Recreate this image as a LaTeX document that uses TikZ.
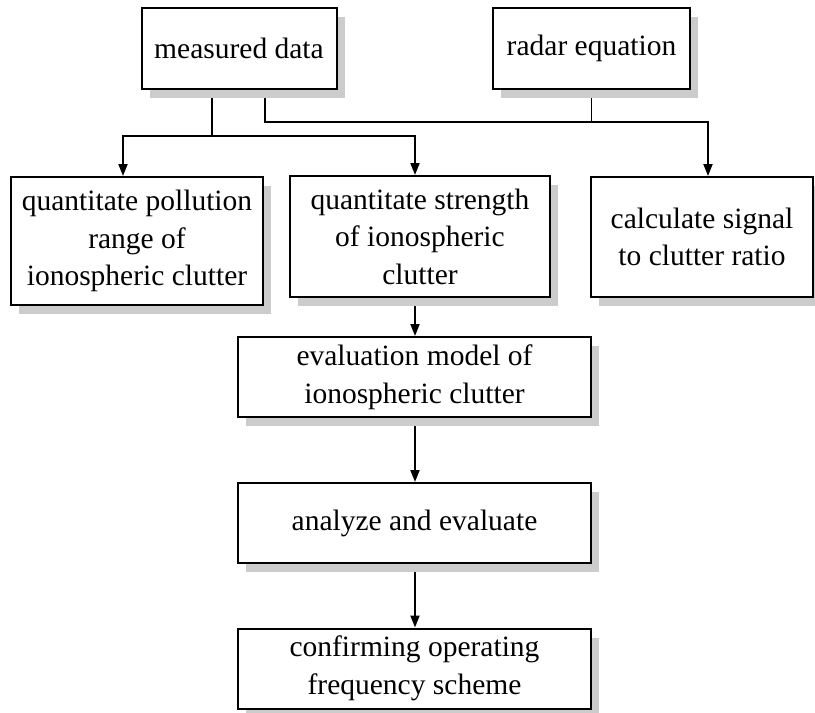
\documentclass[tikz,border=0pt]{standalone}
\usepackage{fontspec}
\setmainfont{Liberation Serif}
\usetikzlibrary{arrows.meta,shadows,backgrounds}
\tikzset{
	box/.style={draw, line width=2pt, fill=white, align=center, inner sep=0pt,
		font=\fontsize{29.5pt}{37.5pt}\selectfont,
		drop shadow={shadow xshift=8pt, shadow yshift=-9pt, fill=black!20, opacity=1}},
	lin/.style={line width=1.8pt},
	arr/.style={line width=1.8pt, -{Triangle[length=12pt,width=9pt]}}
}
\begin{document}
\begin{tikzpicture}[x=1pt,y=-1pt]
	\useasboundingbox (0,0) rectangle (815,713);
	% boxes
	\node[box, minimum width=195pt, minimum height=81pt] (meas) at (239,48.5) {measured data};
	\node[box, minimum width=197pt, minimum height=81pt] (radar) at (591.5,48.5) {radar equation};
	\node[box, minimum width=252pt, minimum height=128pt] (poll) at (137,241) {quantitate pollution\\range of\\ionospheric clutter};
	\node[box, minimum width=260pt, minimum height=121pt] (strg) at (420,236.5) {quantitate strength\\of ionospheric\\clutter};
	\node[box, minimum width=222pt, minimum height=120pt] (calc) at (702,237) {calculate signal\\to clutter ratio};
	\node[box, minimum width=353pt, minimum height=80pt] (eval) at (414.5,377) {evaluation model of\\ionospheric clutter};
	\node[box, minimum width=353pt, minimum height=80pt] (anly) at (414.5,523) {analyze and evaluate};
	\node[box, minimum width=353pt, minimum height=80pt] (conf) at (414.5,668.5) {confirming operating\\frequency scheme};
	% joints and columns
	\coordinate (j1) at (212,136);
	\coordinate (j2) at (265,122);
	\coordinate (c1) at (123,0);
	\coordinate (c2) at (415,0);
	\coordinate (c3) at (708,0);
	% connectors
	\begin{scope}[on background layer]
		\draw[lin] (meas.south -| j1) -- (j1);
		\draw[arr] (j1) -| (c1 |- poll.north);
		\draw[arr] (j1) -| (c2 |- strg.north);
		\draw[lin] (meas.south -| j2) -- (j2) -- (j2 -| radar.south);
		\draw[lin] (radar.south) -- (j2 -| radar.south);
		\draw[arr] (j2) -| (c3 |- calc.north);
		\draw[arr] (strg.south -| c2) -- (eval.north -| c2);
		\draw[arr] (eval.south -| c2) -- (anly.north -| c2);
		\draw[arr] (anly.south -| c2) -- (conf.north -| c2);
	\end{scope}
\end{tikzpicture}
\end{document}
